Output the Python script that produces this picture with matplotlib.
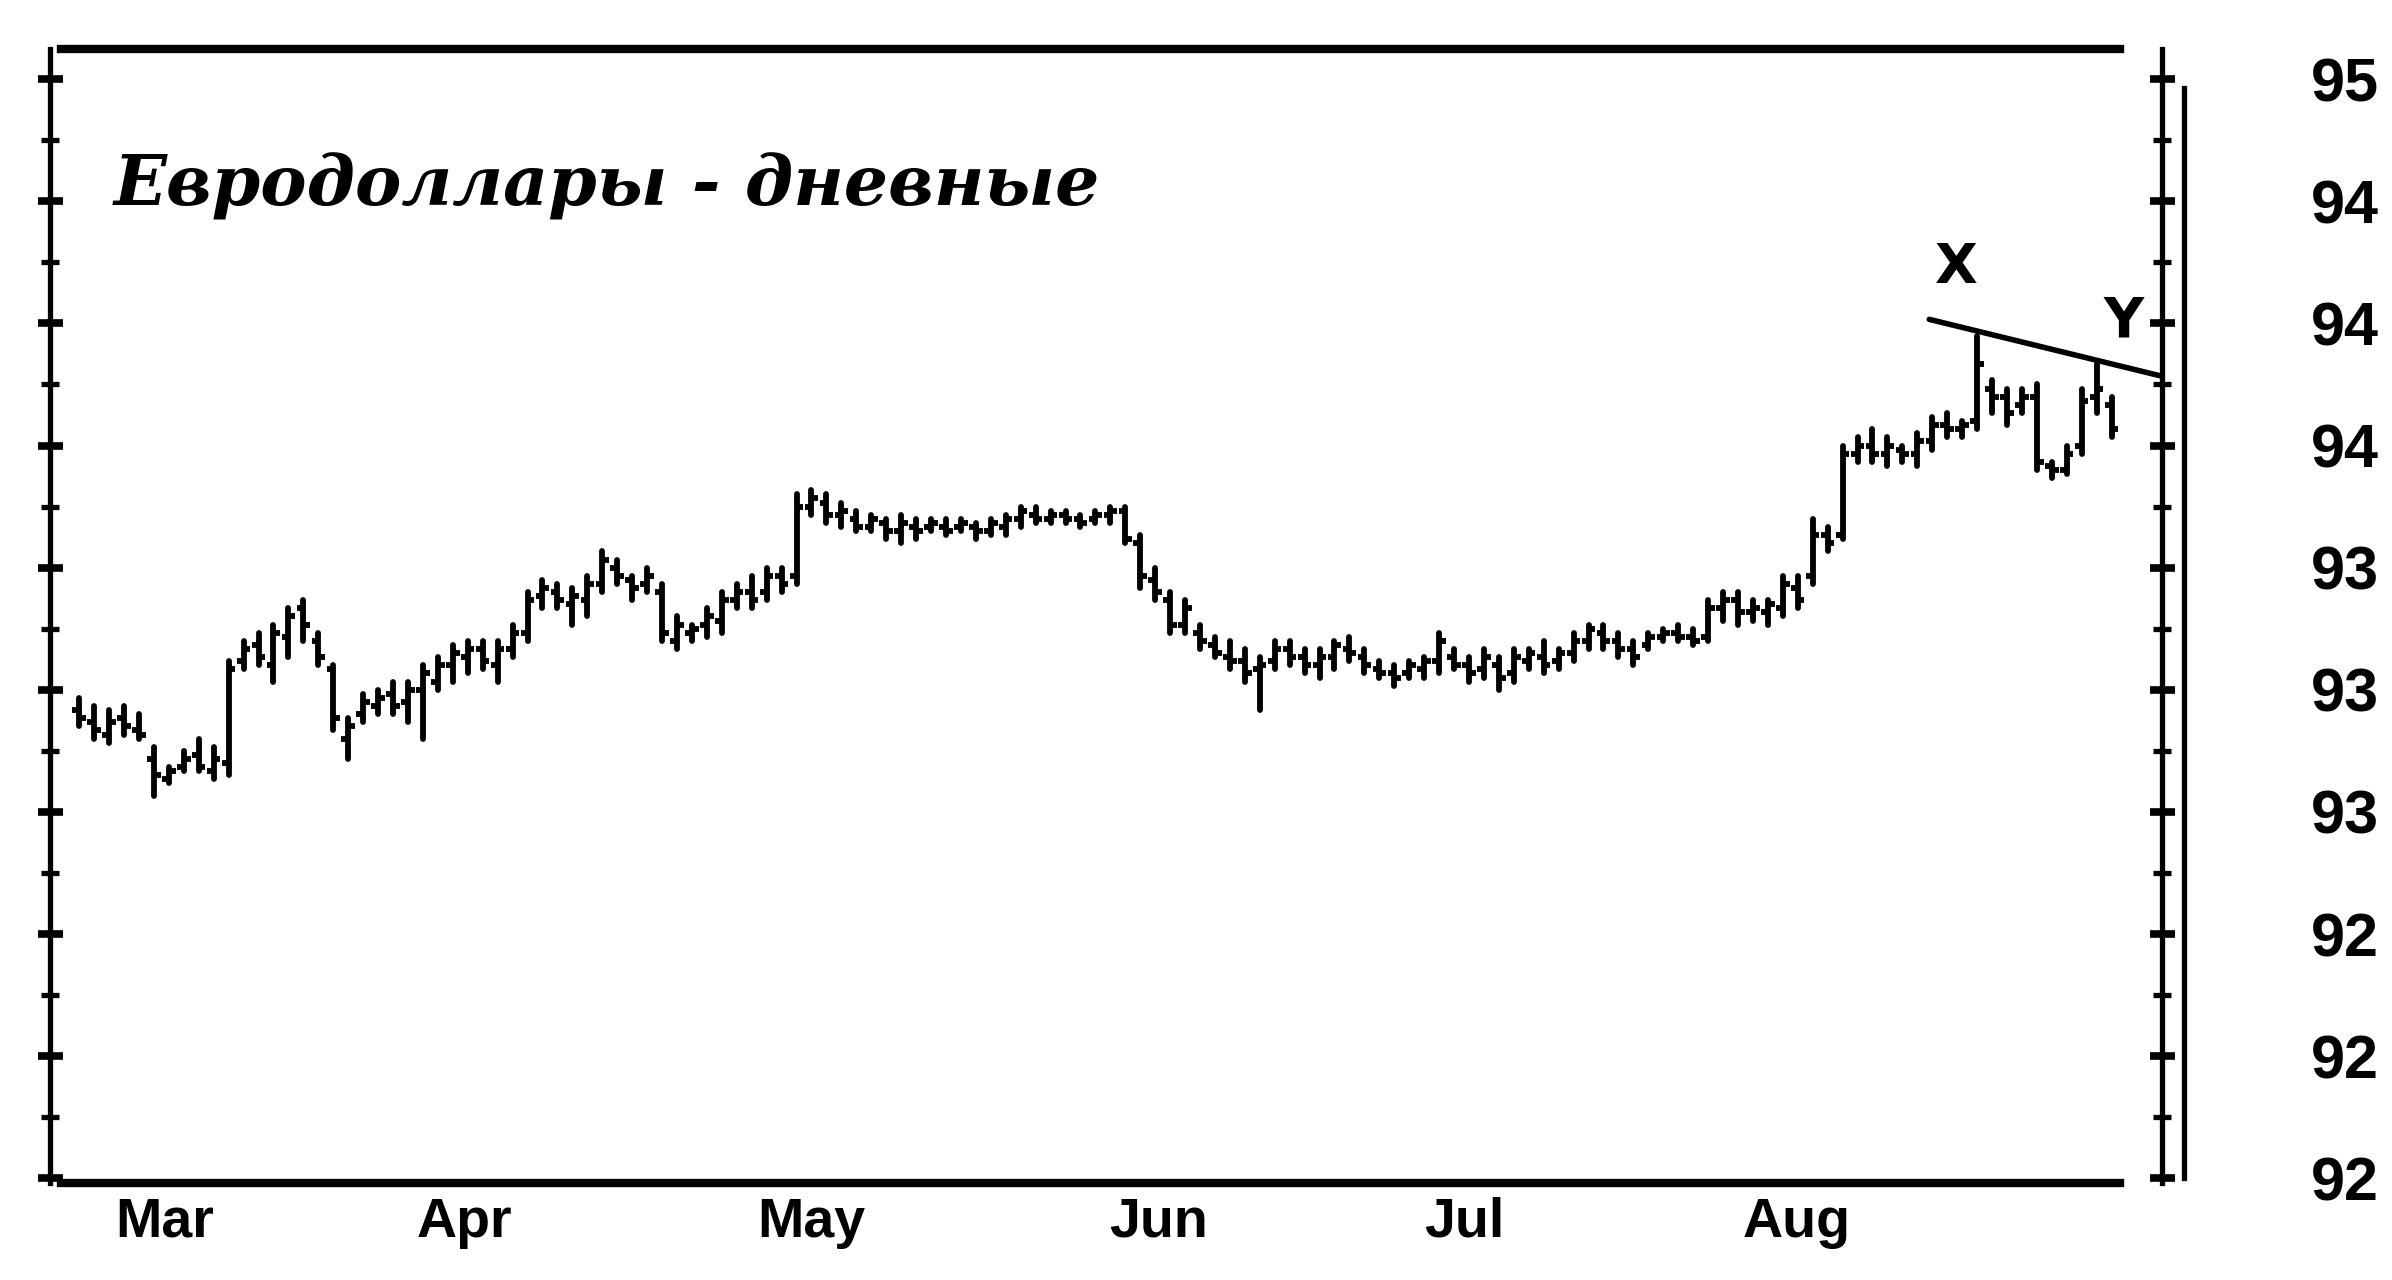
import numpy as np
import matplotlib.pyplot as plt

# daily eurodollar bars, Mar - early Sep
hi = [93.48, 93.46, 93.45, 93.46, 93.44, 93.36, 93.31, 93.35, 93.38, 93.36,
      93.57, 93.62, 93.64, 93.66, 93.70, 93.72, 93.64, 93.56, 93.43, 93.49,
      93.50, 93.52, 93.52, 93.56, 93.58, 93.61, 93.62, 93.62, 93.62, 93.66,
      93.74, 93.77, 93.76, 93.75, 93.78, 93.84, 93.82, 93.78, 93.80, 93.76,
      93.68, 93.66, 93.70, 93.74, 93.76, 93.78, 93.80, 93.80, 93.98, 93.99,
      93.98, 93.96, 93.94, 93.93, 93.92, 93.93, 93.92, 93.92, 93.92, 93.92,
      93.91, 93.92, 93.93, 93.95, 93.95, 93.94, 93.94, 93.93, 93.94, 93.95,
      93.95, 93.88, 93.80, 93.74, 93.72, 93.66, 93.63, 93.62, 93.60, 93.58,
      93.62, 93.62, 93.60, 93.60, 93.62, 93.63, 93.60, 93.57, 93.56, 93.57,
      93.58, 93.64, 93.60, 93.58, 93.60, 93.58, 93.60, 93.60, 93.62, 93.60,
      93.64, 93.66, 93.66, 93.64, 93.62, 93.64, 93.65, 93.66, 93.65, 93.72,
      93.74, 93.74, 93.72, 93.72, 93.78, 93.78, 93.92, 93.90, 94.10, 94.12,
      94.14, 94.12, 94.10, 94.13, 94.17, 94.18, 94.16, 94.37, 94.26, 94.24,
      94.24, 94.25, 94.06, 94.10, 94.24, 94.30, 94.22]
lo = [93.41, 93.38, 93.37, 93.39, 93.38, 93.24, 93.27, 93.30, 93.30, 93.28,
      93.29, 93.55, 93.56, 93.52, 93.58, 93.62, 93.56, 93.40, 93.33, 93.42,
      93.44, 93.44, 93.42, 93.38, 93.50, 93.52, 93.54, 93.55, 93.52, 93.58,
      93.62, 93.70, 93.70, 93.66, 93.68, 93.74, 93.76, 93.72, 93.74, 93.62,
      93.60, 93.62, 93.63, 93.64, 93.70, 93.70, 93.72, 93.74, 93.76, 93.93,
      93.91, 93.90, 93.89, 93.89, 93.87, 93.86, 93.87, 93.89, 93.88, 93.89,
      93.87, 93.88, 93.88, 93.90, 93.91, 93.91, 93.91, 93.90, 93.91, 93.91,
      93.86, 93.75, 93.72, 93.64, 93.64, 93.60, 93.58, 93.55, 93.52, 93.45,
      93.55, 93.56, 93.54, 93.53, 93.55, 93.57, 93.54, 93.53, 93.51, 93.53,
      93.53, 93.54, 93.55, 93.52, 93.53, 93.50, 93.52, 93.55, 93.54, 93.55,
      93.57, 93.60, 93.60, 93.58, 93.56, 93.60, 93.62, 93.62, 93.61, 93.62,
      93.67, 93.66, 93.67, 93.66, 93.68, 93.70, 93.76, 93.84, 93.87, 94.06,
      94.06, 94.05, 94.06, 94.05, 94.09, 94.12, 94.12, 94.14, 94.18, 94.15,
      94.18, 94.04, 94.02, 94.03, 94.08, 94.18, 94.12]
op = [93.45, 93.42, 93.39, 93.43, 93.40, 93.33, 93.28, 93.31, 93.34, 93.30,
      93.32, 93.57, 93.61, 93.56, 93.63, 93.70, 93.62, 93.55, 93.38, 93.44,
      93.46, 93.49, 93.47, 93.50, 93.52, 93.56, 93.58, 93.60, 93.56, 93.60,
      93.64, 93.73, 93.74, 93.71, 93.72, 93.76, 93.80, 93.77, 93.76, 93.74,
      93.62, 93.64, 93.66, 93.67, 93.72, 93.74, 93.74, 93.78, 93.78, 93.95,
      93.96, 93.93, 93.92, 93.90, 93.91, 93.89, 93.90, 93.90, 93.90, 93.90,
      93.90, 93.89, 93.90, 93.92, 93.93, 93.92, 93.93, 93.92, 93.92, 93.93,
      93.94, 93.86, 93.77, 93.72, 93.66, 93.64, 93.61, 93.58, 93.57, 93.55,
      93.57, 93.60, 93.58, 93.56, 93.58, 93.60, 93.58, 93.55, 93.54, 93.54,
      93.55, 93.57, 93.58, 93.56, 93.55, 93.56, 93.54, 93.57, 93.58, 93.57,
      93.59, 93.62, 93.64, 93.62, 93.60, 93.61, 93.63, 93.64, 93.63, 93.63,
      93.70, 93.72, 93.69, 93.69, 93.70, 93.75, 93.78, 93.88, 93.88, 94.08,
      94.10, 94.08, 94.09, 94.08, 94.11, 94.15, 94.14, 94.16, 94.24, 94.22,
      94.20, 94.22, 94.05, 94.04, 94.10, 94.22, 94.20]
cl = [93.43, 93.40, 93.42, 93.41, 93.39, 93.29, 93.30, 93.33, 93.31, 93.33,
      93.55, 93.60, 93.58, 93.64, 93.68, 93.66, 93.58, 93.43, 93.41, 93.47,
      93.48, 93.46, 93.50, 93.54, 93.56, 93.59, 93.60, 93.57, 93.60, 93.64,
      93.72, 93.75, 93.72, 93.73, 93.76, 93.82, 93.78, 93.75, 93.78, 93.64,
      93.66, 93.65, 93.68, 93.72, 93.74, 93.72, 93.78, 93.76, 93.95, 93.97,
      93.93, 93.94, 93.90, 93.92, 93.89, 93.91, 93.89, 93.91, 93.89, 93.91,
      93.89, 93.91, 93.92, 93.94, 93.92, 93.93, 93.92, 93.91, 93.93, 93.94,
      93.87, 93.78, 93.74, 93.66, 93.70, 93.62, 93.59, 93.57, 93.54, 93.56,
      93.60, 93.58, 93.56, 93.58, 93.61, 93.59, 93.56, 93.54, 93.53, 93.56,
      93.57, 93.62, 93.56, 93.54, 93.58, 93.53, 93.58, 93.59, 93.56, 93.59,
      93.62, 93.65, 93.62, 93.60, 93.58, 93.63, 93.64, 93.63, 93.62, 93.70,
      93.72, 93.69, 93.70, 93.71, 93.76, 93.72, 93.88, 93.86, 94.08, 94.10,
      94.08, 94.10, 94.08, 94.11, 94.15, 94.14, 94.15, 94.30, 94.22, 94.18,
      94.22, 94.06, 94.04, 94.08, 94.21, 94.24, 94.14]

months = ['Mar', 'Apr', 'May', 'Jun', 'Jul', 'Aug']
month_pos = [5.7, 25.8, 49.0, 72.2, 92.7, 114.9]

ytick_vals = [95.0, 94.7, 94.4, 94.1, 93.8, 93.5, 93.2, 92.9, 92.6, 92.3]
ytick_labels = ['95', '94', '94', '94', '93', '93', '93', '92', '92', '92']

# resistance line X-Y
trend_x = [123.8, 139.4]
trend_y = [94.41, 94.27]

title = 'Евродоллары - дневные'

fig = plt.figure(figsize=(23.92, 12.8), dpi=100)
ax = fig.add_axes([0.021, 0.076, 0.883, 0.886])

x = np.arange(len(hi))
ax.vlines(x, lo, hi, color='black', lw=4.2, capstyle='round')
ax.hlines(op, x - 0.45, x, color='black', lw=4.2)
ax.hlines(cl, x, x + 0.45, color='black', lw=4.2)

ax.plot(trend_x, trend_y, color='black', lw=4, solid_capstyle='round')
ax.text(125.6, 94.535, 'X', fontsize=40, weight='bold', ha='center', va='center')
ax.text(136.8, 94.404, 'Y', fontsize=40, weight='bold', ha='center', va='center')

ax.text(0.030, 0.879, title, transform=ax.transAxes, fontsize=50,
        family='DejaVu Serif', weight='bold', style='italic', va='center')

ax.set_xlim(-1.94, 139.4)
ax.set_ylim(92.289, 95.075)

# frame: thick top/bottom rules that stop short of the right axis
for side in ['top', 'bottom']:
    ax.spines[side].set_visible(False)
for side in ['left', 'right']:
    ax.spines[side].set_linewidth(3.8)
ax.plot([0.005, 0.98], [1.0, 1.0], transform=ax.transAxes, color='black',
        lw=6, clip_on=False)
ax.plot([0.005, 0.98], [0.0, 0.0], transform=ax.transAxes, color='black',
        lw=6, clip_on=False)
ax.plot([1.0101, 1.0101], [0.004, 0.965], transform=ax.transAxes,
        color='black', lw=3.8, clip_on=False)

ax.set_yticks(ytick_vals)
ax.set_yticks(np.arange(92.45, 95.0, 0.3), minor=True)
ax.set_yticklabels(ytick_labels, family='Liberation Sans', weight='bold',
                   fontsize=44)
ax.tick_params(axis='y', which='major', left=True, right=True,
               labelleft=False, labelright=True, direction='inout',
               length=18, width=5.5, pad=98)
ax.tick_params(axis='y', which='minor', left=True, right=True,
               direction='inout', length=13, width=3.8)

ax.set_xticks(month_pos)
ax.set_xticklabels(months, family='Liberation Sans', weight='bold', fontsize=40)
ax.tick_params(axis='x', length=0, pad=10)

fig.savefig('out.png', dpi=100)
